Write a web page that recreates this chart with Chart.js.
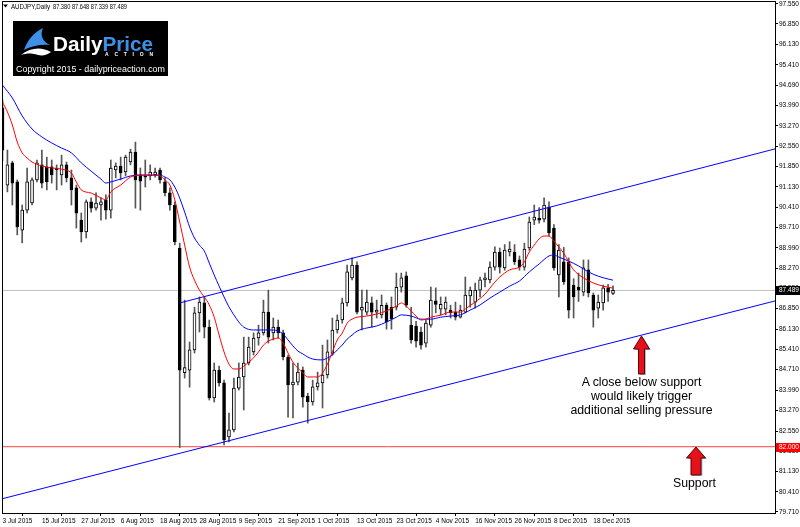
<!DOCTYPE html>
<html>
<head>
<meta charset="utf-8">
<script src="https://cdn.jsdelivr.net/npm/chart.js@4.4.1/dist/chart.umd.min.js"></script>
<style>
  body { margin: 0; background: #fff; }
  #wrap { position: relative; width: 800px; height: 527px; overflow: hidden; background: #fff; }
  #chart { position: absolute; left: 0; top: 0; }
  #notes { position: absolute; left: 0; top: 0; pointer-events: none; }
  #notes text { font-family: "Liberation Sans", Arial, sans-serif; }
</style>
</head>
<body>
<div id="wrap">
  <canvas id="chart" width="800" height="527"></canvas>
  <svg id="notes" width="800" height="527" viewBox="0 0 800 527">
    <!-- header -->
    <polygon points="3,4.5 8,4.5 5.5,7.5" fill="#000"/>
    <text x="11" y="8.5" font-size="6.5" textLength="39" lengthAdjust="spacingAndGlyphs">AUDJPY,Daily</text>
    <text x="53" y="8.5" font-size="6.5" textLength="74" lengthAdjust="spacingAndGlyphs">87.380 87.648 87.339 87.489</text>

    <!-- logo -->
    <rect x="13" y="21" width="155" height="55" fill="#000"/>
    <path d="M24,50 C27,41 33,33 43,28 C40,35 42,41 50,45 C41,44 31,46 24,50 Z" fill="#3d8fe8"/>
    <path d="M21,55 C31,47 42,47 51,52 C47,55 43,56 38,55 C32,53 27,53 21,55 Z" fill="#fff"/>
    <text x="53" y="50.5" font-size="19.5" font-weight="bold" textLength="100" lengthAdjust="spacingAndGlyphs"><tspan fill="#fff">Daily</tspan><tspan fill="#3d8fe8">Price</tspan></text>
    <text x="105" y="55.5" font-size="5" font-weight="bold" fill="#fff" textLength="48" lengthAdjust="spacing">ACTION</text>
    <text x="16" y="72" font-size="8.5" fill="#fff" textLength="149" lengthAdjust="spacingAndGlyphs">Copyright 2015 - dailypriceaction.com</text>

    <!-- arrows -->
    <g transform="translate(1.5,1)" fill="#9cc8d4">
      <polygon points="641.5,336 649.5,349 644.5,349 644.5,374 638.5,374 638.5,349 633.5,349"/>
      <polygon points="696,447 705.5,458 701,458 701,475 691,475 691,458 686.5,458"/>
    </g>
    <g fill="#e8101a" stroke="#5a0000" stroke-width="1">
      <polygon points="641.5,336 649.5,349 644.5,349 644.5,374 638.5,374 638.5,349 633.5,349"/>
      <polygon points="696,447 705.5,458 701,458 701,475 691,475 691,458 686.5,458"/>
    </g>

    <!-- annotations -->
    <g font-size="12.3" fill="#000" text-anchor="middle">
      <text x="641.5" y="385.5">A close below support</text>
      <text x="641.5" y="399.5">would likely trigger</text>
      <text x="641.5" y="413.5">additional selling pressure</text>
      <text x="694.5" y="487">Support</text>
    </g>
  </svg>
</div>
<script>
// x axis: one step per daily bar, labels every 8 bars
const tickBars = [0, 8, 16, 24, 32, 40, 48, 56, 64, 72, 80, 88, 96, 104, 112, 120];
const tickLabels = ['3 Jul 2015', '15 Jul 2015', '27 Jul 2015', '6 Aug 2015', '18 Aug 2015', '28 Aug 2015',
  '9 Sep 2015', '21 Sep 2015', '1 Oct 2015', '13 Oct 2015', '23 Oct 2015', '4 Nov 2015',
  '16 Nov 2015', '26 Nov 2015', '8 Dec 2015', '18 Dec 2015'];
const priceTicks = [97.55, 96.85, 96.13, 95.41, 94.69, 93.99, 93.27, 92.55, 91.85, 91.13, 90.41, 89.71,
  88.99, 88.27, 87.55, 86.85, 86.13, 85.41, 84.71, 83.99, 83.27, 82.55, 81.85, 81.13, 80.41, 79.71];

// AUDJPY daily candles
const opens = [93.90, 91.19, 91.97, 91.30, 89.61, 90.31, 90.56, 91.37, 91.90, 91.83,
  91.83, 91.79, 91.55, 91.90, 91.44, 91.09, 89.96, 89.54, 90.60, 90.38,
  90.49, 90.67, 90.31, 91.72, 91.86, 91.65, 92.00, 92.35, 91.55, 91.51,
  91.51, 91.55, 91.72, 91.30, 90.92, 90.49, 88.98, 84.60, 84.69, 85.40,
  86.70, 87.05, 86.20, 83.71, 84.69, 84.24, 82.34, 82.59, 84.06, 84.45,
  84.94, 85.33, 85.82, 86.00, 86.73, 86.00, 86.20, 86.00, 85.15, 84.17,
  84.27, 84.69, 83.78, 83.57, 84.10, 84.24, 84.52, 85.29, 86.10, 86.45,
  87.05, 87.93, 88.38, 86.80, 86.73, 87.05, 86.73, 86.63, 86.97, 86.90,
  86.90, 87.60, 88.00, 86.27, 86.24, 86.03, 85.64, 86.27, 87.12, 86.83,
  86.83, 86.80, 86.73, 86.55, 86.73, 87.30, 87.08, 87.50, 87.86, 87.86,
  88.31, 88.84, 88.28, 88.84, 88.84, 88.56, 88.31, 88.98, 89.96, 90.03,
  89.99, 90.42, 89.68, 88.03, 88.49, 88.49, 87.68, 87.61, 87.43, 88.21,
  87.33, 86.87, 87.05, 87.58, 87.38];
const highs = [94.18, 92.42, 92.03, 91.37, 90.49, 91.79, 91.44, 92.07, 92.42, 92.17,
  92.07, 91.90, 92.24, 92.00, 91.72, 91.19, 90.21, 90.67, 90.74, 90.92,
  90.74, 90.85, 92.07, 91.97, 92.17, 92.24, 92.45, 92.70, 91.79, 92.07,
  91.90, 91.79, 91.79, 91.44, 91.09, 90.60, 89.15, 87.15, 85.68, 86.90,
  87.26, 87.26, 86.45, 84.94, 84.83, 84.34, 83.18, 84.41, 84.94, 85.85,
  85.85, 86.00, 86.27, 87.15, 87.50, 86.52, 86.45, 86.10, 85.22, 84.94,
  84.94, 84.80, 83.88, 84.34, 84.62, 85.57, 85.75, 86.52, 86.63, 87.22,
  88.38, 88.63, 88.49, 87.50, 87.50, 87.26, 87.15, 87.33, 87.05, 87.26,
  88.10, 88.10, 88.14, 86.90, 86.40, 86.20, 86.45, 87.61, 87.58, 87.26,
  87.26, 86.97, 87.08, 86.97, 87.96, 87.61, 87.75, 87.96, 88.10, 88.49,
  89.02, 88.98, 89.10, 89.20, 89.10, 88.70, 89.15, 90.07, 90.49, 90.40,
  90.74, 90.60, 89.80, 89.10, 89.00, 88.63, 87.90, 88.10, 88.56, 88.56,
  87.40, 87.33, 87.68, 87.70, 87.648];
const lows = [92.05, 90.95, 90.49, 89.44, 89.16, 90.21, 90.49, 91.30, 91.09, 91.02,
  91.26, 91.02, 91.19, 91.30, 90.49, 89.68, 89.19, 89.33, 90.24, 90.31,
  89.96, 89.99, 90.03, 91.44, 91.37, 91.51, 91.90, 90.38, 90.31, 91.12,
  91.37, 91.47, 91.26, 90.81, 90.31, 89.09, 81.97, 84.41, 84.09, 85.29,
  86.03, 85.82, 83.64, 83.57, 84.13, 82.06, 82.17, 82.52, 83.99, 83.29,
  84.87, 85.22, 85.57, 85.92, 85.64, 85.75, 85.82, 85.05, 83.04, 83.01,
  84.17, 83.39, 82.83, 83.46, 83.99, 83.36, 84.41, 85.22, 85.99, 86.34,
  86.94, 87.86, 86.66, 86.10, 86.63, 86.20, 86.52, 86.52, 86.13, 86.13,
  86.80, 87.43, 86.90, 85.64, 85.50, 85.43, 85.50, 86.20, 86.70, 86.63,
  86.63, 86.52, 86.45, 86.52, 86.70, 86.90, 86.87, 87.26, 87.61, 87.75,
  88.20, 88.10, 88.20, 88.70, 88.40, 88.20, 88.20, 88.90, 89.80, 89.85,
  89.90, 89.40, 88.20, 87.26, 87.70, 86.52, 86.52, 87.10, 87.30, 87.26,
  86.20, 86.52, 86.80, 87.10, 87.339];
const closes = [92.42, 91.90, 91.26, 89.72, 90.31, 91.30, 91.37, 91.97, 91.26, 91.30,
  91.55, 91.72, 91.90, 91.44, 91.02, 90.20, 89.54, 90.60, 90.38, 90.56,
  90.60, 90.31, 91.79, 91.86, 91.62, 92.17, 92.35, 91.37, 91.33, 91.47,
  91.65, 91.65, 91.37, 90.92, 90.49, 89.19, 84.69, 84.78, 85.40, 86.70,
  87.08, 86.20, 83.71, 84.69, 84.24, 82.24, 82.59, 84.06, 84.45, 84.94,
  85.50, 85.82, 86.00, 86.73, 85.85, 86.20, 86.00, 85.15, 84.17, 84.27,
  84.62, 83.74, 83.57, 84.10, 84.24, 84.52, 85.33, 86.10, 86.45, 87.05,
  88.14, 88.38, 86.73, 86.90, 87.08, 86.73, 86.80, 86.97, 86.38, 86.50,
  87.60, 87.93, 86.97, 85.75, 85.71, 85.57, 86.34, 87.15, 87.00, 87.00,
  87.08, 86.70, 86.55, 86.80, 87.33, 87.50, 87.50, 87.86, 87.93, 88.31,
  88.84, 88.31, 88.91, 88.94, 88.49, 88.31, 88.94, 89.89, 90.07, 89.96,
  90.49, 89.51, 88.28, 88.91, 87.79, 86.80, 87.26, 87.50, 88.28, 87.40,
  86.80, 87.08, 87.58, 87.43, 87.489];

// moving averages (bar index -> price)
const redBars = [0, 1, 2, 3, 4, 5, 6, 8, 10, 12, 14, 15, 16, 18, 20, 21, 22, 24, 26, 28, 30, 32, 33, 34, 35,
  36, 37, 38, 39, 40, 41, 42, 43, 44, 45, 46, 47, 48, 49, 50, 51, 52, 53, 54, 55, 56, 57, 58, 59, 60,
  61, 62, 64, 65, 66, 67, 68, 69, 70, 71, 72, 74, 76, 78, 80, 81, 82, 83, 84, 85, 86, 87, 89, 91, 93,
  94, 96, 98, 99, 100, 101, 103, 105, 106, 107, 108, 109, 110, 111, 112, 113, 114, 115, 116, 118, 120, 122, 124];
const redValues = [94.10, 93.76, 93.30, 92.70, 92.32, 92.14, 92.00, 91.86, 91.79, 91.75, 91.61, 91.30, 91.02, 90.91, 90.74, 90.67, 90.95, 91.19, 91.47, 91.54, 91.54, 91.51, 91.37, 91.19, 90.67,
  89.89, 89.08, 88.31, 87.85, 87.50, 87.26, 86.98, 86.55, 85.92, 85.33, 84.90, 84.73, 84.73, 84.83, 84.97, 85.12, 85.33, 85.57, 85.71, 85.78, 85.82, 85.64, 85.29, 84.97, 84.76,
  84.59, 84.45, 84.45, 84.59, 84.90, 85.33, 85.75, 85.99, 86.34, 86.48, 86.55, 86.59, 86.66, 86.77, 86.94, 87.05, 86.94, 86.77, 86.59, 86.45, 86.48, 86.55, 86.62, 86.73, 86.73,
  86.84, 87.08, 87.36, 87.57, 87.78, 87.96, 88.21, 88.31, 88.49, 88.84, 89.08, 89.30, 89.40, 89.40, 89.22, 89.01, 88.80, 88.49, 88.21, 87.93, 87.75, 87.64, 87.57];
const blueBars = [0, 2, 4, 6, 8, 10, 12, 14, 16, 18, 20, 21, 22, 24, 26, 28, 30, 32, 33, 34, 35, 36, 37, 38, 39,
  40, 41, 42, 43, 44, 45, 46, 47, 48, 49, 51, 53, 55, 56, 57, 58, 59, 60, 61, 62, 63, 65, 66, 67, 68,
  69, 70, 71, 72, 74, 76, 78, 80, 81, 83, 85, 87, 89, 91, 93, 95, 97, 99, 101, 103, 105, 107, 109, 111,
  112, 113, 115, 117, 119, 121, 123, 124];
const blueValues = [94.70, 94.25, 93.62, 93.16, 92.88, 92.67, 92.49, 92.32, 91.97, 91.68, 91.40, 91.26, 91.30, 91.40, 91.51, 91.54, 91.54, 91.54, 91.47, 91.37, 91.12, 90.73, 90.24, 89.72, 89.33,
  89.08, 88.87, 88.45, 88.03, 87.64, 87.26, 86.91, 86.63, 86.38, 86.20, 86.10, 86.10, 86.10, 86.06, 85.96, 85.75, 85.54, 85.36, 85.26, 85.15, 85.08, 85.05, 85.12, 85.22, 85.40,
  85.57, 85.78, 85.92, 86.06, 86.17, 86.24, 86.38, 86.55, 86.63, 86.59, 86.48, 86.48, 86.55, 86.59, 86.63, 86.80, 86.98, 87.22, 87.43, 87.64, 87.82, 88.14, 88.42, 88.70,
  88.73, 88.66, 88.52, 88.35, 88.14, 87.99, 87.89, 87.85];

// drawn trend channel and horizontal levels
const channelTopBars = [36, 156.9];
const channelTopValues = [87.05, 92.46];
const channelLowBars = [-0.1, 156.9];
const channelLowValues = [80.17, 87.12];
const lastPrice = 87.489;
const supportPrice = 82.0;

const xMin = -0.1, xMax = 156.9;
const yMin = 79.672, yMax = 97.655;
const tickFont = { family: '"Liberation Sans", Arial, sans-serif', size: 6.5 };

const barIdx = opens.map((_, i) => i);
const wicks = barIdx.map(i => ({ x: i, y: [lows[i], highs[i]] }));
const bodies = barIdx.map(i => ({ x: i, y: [opens[i], closes[i]] }));
const pairs = (xs, ys) => xs.map((x, k) => ({ x: x, y: ys[k] }));

function lineSet(data, color, width, order, smooth) {
  return {
    type: 'line', data: data, borderColor: color, borderWidth: width,
    pointRadius: 0, fill: false, order: order,
    cubicInterpolationMode: smooth ? 'monotone' : 'default', tension: 0
  };
}

function priceTag(ctx, yPix, x, color, text) {
  ctx.fillStyle = color;
  ctx.fillRect(x + 1, Math.round(yPix) - 4, 24, 9);
  ctx.fillStyle = '#fff';
  ctx.font = '6.5px "Liberation Sans", Arial, sans-serif';
  ctx.textBaseline = 'middle';
  ctx.textAlign = 'left';
  ctx.fillText(text, x + 4, Math.round(yPix) + 0.5);
}

const framePlugin = {
  id: 'frame',
  afterDraw(chart) {
    const { ctx, chartArea: a } = chart;
    const y = chart.scales.y;
    ctx.save();
    ctx.strokeStyle = '#000';
    ctx.lineWidth = 1;
    ctx.strokeRect(Math.round(a.left) + 0.5, Math.round(a.top) + 0.5,
      Math.round(a.right - a.left), Math.round(a.bottom - a.top));
    priceTag(ctx, y.getPixelForValue(lastPrice), a.right, '#000', lastPrice.toFixed(3));
    priceTag(ctx, y.getPixelForValue(supportPrice), a.right, '#ff0000', supportPrice.toFixed(3));
    ctx.restore();
  }
};

new Chart(document.getElementById('chart'), {
  type: 'bar',
  data: {
    datasets: [
      lineSet(pairs([xMin, xMax], [lastPrice, lastPrice]), '#c0c0c0', 1, 9, false),
      lineSet(pairs([xMin, xMax], [supportPrice, supportPrice]), '#ff4040', 1, 9, false),
      {
        type: 'bar', data: wicks, backgroundColor: '#555', borderWidth: 0,
        barThickness: 1, grouped: false, order: 8
      },
      {
        type: 'bar', data: bodies,
        backgroundColor: barIdx.map(i => closes[i] >= opens[i] ? '#fff' : '#000'),
        borderColor: '#000', borderWidth: 1, borderSkipped: false,
        barThickness: 3, grouped: false, order: 7
      },
      lineSet(pairs(redBars, redValues), '#ff0000', 1, 4, true),
      lineSet(pairs(blueBars, blueValues), '#0000ff', 1, 5, true),
      lineSet(pairs(channelTopBars, channelTopValues), '#0000ff', 1, 2, false),
      lineSet(pairs(channelLowBars, channelLowValues), '#0000ff', 1, 2, false)
    ]
  },
  options: {
    responsive: false,
    animation: false,
    devicePixelRatio: 1,
    layout: { padding: { top: 1, left: 2, right: 0, bottom: 0 } },
    plugins: { legend: { display: false }, tooltip: { enabled: false } },
    scales: {
      x: {
        type: 'linear', position: 'bottom', min: xMin, max: xMax, offset: false,
        afterBuildTicks: s => { s.ticks = tickBars.map(v => ({ value: v })); },
        afterFit: s => { s.height = 14; s.paddingLeft = 0; s.paddingRight = 0; },
        ticks: {
          autoSkip: false, maxRotation: 0, align: 'start', padding: 1, color: '#000', font: tickFont,
          callback: (v, i) => tickLabels[i]
        },
        grid: { drawOnChartArea: false, drawTicks: true, tickLength: 3, color: '#000' },
        border: { display: false }
      },
      y: {
        type: 'linear', position: 'right', min: yMin, max: yMax,
        afterBuildTicks: s => { s.ticks = priceTicks.map(v => ({ value: v })); },
        afterFit: s => { s.width = 25; s.paddingTop = 0; s.paddingBottom = 0; },
        ticks: {
          autoSkip: false, padding: 1, color: '#000', font: tickFont,
          callback: v => Number(v).toFixed(3)
        },
        grid: { drawOnChartArea: false, drawTicks: true, tickLength: 3, color: '#000' },
        border: { display: false }
      }
    }
  },
  plugins: [framePlugin]
});
</script>
</body>
</html>
